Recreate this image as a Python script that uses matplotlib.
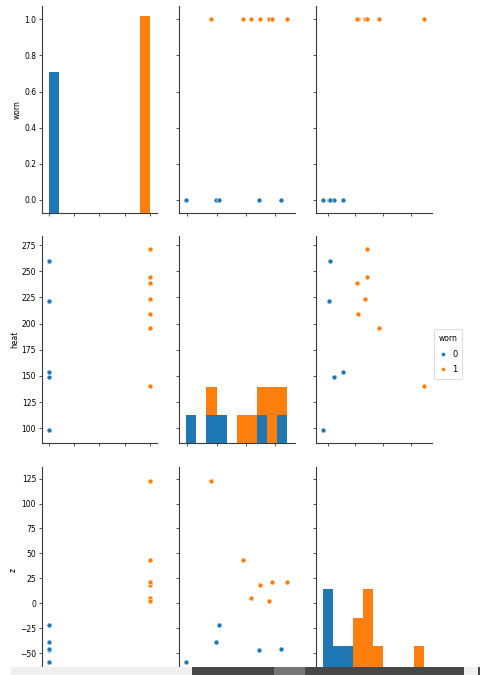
import matplotlib
matplotlib.use('Agg')
import matplotlib.pyplot as plt
from matplotlib.patches import Rectangle
from matplotlib.lines import Line2D
import numpy as np

# data (hue = worn)
worn_0 = [0, 0, 0, 0, 0]
heat_0 = [98, 149, 154, 222, 260]
z_0 = [-59, -39, -22, -47, -46]

worn_1 = [1, 1, 1, 1, 1, 1, 1]
heat_1 = [140, 196, 209, 224, 239, 245, 271]
z_1 = [123, 43, 5.5, 18, 2, 21.5, 21.5]

var_names = ['worn', 'heat', 'z']
hue_labels = ['0', '1']
colors = ['#1f77b4', '#ff7f0e']

data = {
    '0': {'worn': worn_0, 'heat': heat_0, 'z': z_0},
    '1': {'worn': worn_1, 'heat': heat_1, 'z': z_1},
}
lims = {'worn': (-0.074, 1.074), 'heat': (86, 284), 'z': (-71, 137)}
ticks = {
    'worn': ([0, 0.25, 0.5, 0.75, 1.0], [0, 0.2, 0.4, 0.6, 0.8, 1.0]),
    'heat': ([100, 150, 200, 250], list(range(100, 276, 25))),
    'z': ([-50, 0, 50, 100], list(range(-50, 126, 25))),
}

W, H = 481, 675
fig = plt.figure(figsize=(W / 100, H / 100), dpi=100)

col_left = [41.7, 179.3, 316.0]
row_top = [6.0, 235.7, 466.7]
ax_w, ax_h = 115.5, 207.3

spine_col = '#3a3a3a'
for i, yv in enumerate(var_names):
    for j, xv in enumerate(var_names):
        ax = fig.add_axes([col_left[j] / W, 1 - (row_top[i] + ax_h) / H, ax_w / W, ax_h / H])
        ax.set_xlim(lims[xv])
        ax.set_ylim(lims[yv])
        ax.set_xticks(ticks[xv][0])
        ax.set_yticks(ticks[yv][1])
        ax.tick_params(length=2.5, width=0.6, color=spine_col, labelsize=5.5, pad=1.5)
        ax.tick_params(axis='x', labelbottom=False)
        if j > 0:
            ax.tick_params(axis='y', labelleft=False)
        for s in ['top', 'right']:
            ax.spines[s].set_visible(False)
        for s in ['left', 'bottom']:
            ax.spines[s].set_color(spine_col)
            ax.spines[s].set_linewidth(0.8)
        if j == 0:
            ax.set_ylabel(yv, fontsize=5.5, labelpad=2)

        if i == j:
            # stacked hist on a hidden twin axis (shared count scale)
            tw = ax.twinx()
            tw.set_axis_off()
            vals = [data[h][xv] for h in hue_labels]
            lo = min(min(v) for v in vals)
            hi = max(max(v) for v in vals)
            tw.hist(vals, bins=10, range=(lo, hi), histtype='barstacked',
                    color=colors, edgecolor='none', linewidth=0)
            tw.set_ylim(0, 7.35)
            ax.set_xlim(lims[xv])
        else:
            for h, c in zip(hue_labels, colors):
                ax.scatter(data[h][xv], data[h][yv], s=13, color=c,
                           edgecolor='white', linewidth=0.4, zorder=3)

handles = [Line2D([], [], marker='o', ls='', color=c, markersize=3,
                  markeredgecolor='white', markeredgewidth=0.4) for c in colors]
leg = fig.legend(handles, hue_labels, title='worn', loc='center',
                 bbox_to_anchor=(448 / W, 1 - 354 / H), fontsize=6,
                 title_fontsize=5.5, frameon=True, handletextpad=0.6,
                 handlelength=1.0, borderpad=0.6, labelspacing=0.8)
leg.get_frame().set_edgecolor('#cccccc')
leg.get_frame().set_linewidth(0.6)

# notebook scrollbar strip across the bottom of the screenshot
bar_y, bar_h = 667, 8
for x0, x1, c in [(11, 192, '#f0f0f0'), (192, 274, '#474747'), (274, 305, '#767676'),
                  (305, 464, '#474747'), (464, 478, '#f0f0f0'), (478, 481, '#474747')]:
    fig.patches.append(Rectangle((x0 / W, 1 - (bar_y + bar_h) / H), (x1 - x0) / W, bar_h / H,
                                 transform=fig.transFigure, facecolor=c, edgecolor='none',
                                 zorder=10))

fig.savefig('out.png', dpi=100)
